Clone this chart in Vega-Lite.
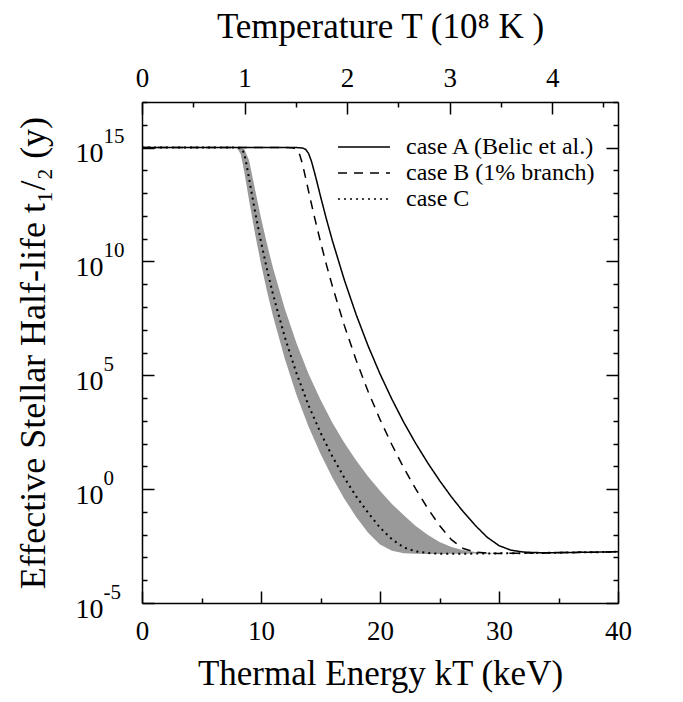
{
  "$schema": "https://vega.github.io/schema/vega-lite/v6.json",
  "autosize": {"type": "none"},
  "padding": {"left": 142, "top": 102, "right": 65, "bottom": 99},
  "width": 476,
  "height": 501,
  "config": {
    "view": {"stroke": null},
    "axis": {"labelFont": "Liberation Serif", "titleFont": "Liberation Serif", "labelColor": "black", "titleColor": "black", "titleFontWeight": "normal", "tickColor": "black", "domainColor": "black", "grid": false, "labelFlush": false, "labelOverlap": false, "tickWidth": 1.5, "domainWidth": 1.5},
    "legend": {"labelFont": "Liberation Serif", "labelColor": "black"}
  },
  "datasets": {
    "lines": [
      {"kT": 0, "t": 1e15, "case": "case A (Belic et al.)"},
      {"kT": 12, "t": 1e15, "case": "case A (Belic et al.)"},
      {"kT": 13, "t": 9.98e14, "case": "case A (Belic et al.)"},
      {"kT": 13.5, "t": 9.55e14, "case": "case A (Belic et al.)"},
      {"kT": 13.75, "t": 8.3e14, "case": "case A (Belic et al.)"},
      {"kT": 14, "t": 5.5e14, "case": "case A (Belic et al.)"},
      {"kT": 14.25, "t": 2.4e14, "case": "case A (Belic et al.)"},
      {"kT": 14.5, "t": 7.94e13, "case": "case A (Belic et al.)"},
      {"kT": 14.75, "t": 2.45e13, "case": "case A (Belic et al.)"},
      {"kT": 15, "t": 7.24e12, "case": "case A (Belic et al.)"},
      {"kT": 15.5, "t": 7.08e11, "case": "case A (Belic et al.)"},
      {"kT": 16, "t": 8.13e10, "case": "case A (Belic et al.)"},
      {"kT": 17, "t": 1.55e9, "case": "case A (Belic et al.)"},
      {"kT": 18, "t": 4.57e7, "case": "case A (Belic et al.)"},
      {"kT": 19, "t": 1.95e6, "case": "case A (Belic et al.)"},
      {"kT": 20, "t": 1.15e5, "case": "case A (Belic et al.)"},
      {"kT": 21, "t": 8910, "case": "case A (Belic et al.)"},
      {"kT": 22, "t": 851, "case": "case A (Belic et al.)"},
      {"kT": 23, "t": 102, "case": "case A (Belic et al.)"},
      {"kT": 24, "t": 14.5, "case": "case A (Belic et al.)"},
      {"kT": 25, "t": 2.4, "case": "case A (Belic et al.)"},
      {"kT": 26, "t": 0.457, "case": "case A (Belic et al.)"},
      {"kT": 27, "t": 0.101, "case": "case A (Belic et al.)"},
      {"kT": 28, "t": 0.0257, "case": "case A (Belic et al.)"},
      {"kT": 29, "t": 0.00776, "case": "case A (Belic et al.)"},
      {"kT": 30, "t": 0.00331, "case": "case A (Belic et al.)"},
      {"kT": 31, "t": 0.00209, "case": "case A (Belic et al.)"},
      {"kT": 32, "t": 0.00174, "case": "case A (Belic et al.)"},
      {"kT": 33, "t": 0.00164, "case": "case A (Belic et al.)"},
      {"kT": 34, "t": 0.00161, "case": "case A (Belic et al.)"},
      {"kT": 36, "t": 0.00166, "case": "case A (Belic et al.)"},
      {"kT": 38, "t": 0.0017, "case": "case A (Belic et al.)"},
      {"kT": 40, "t": 0.00178, "case": "case A (Belic et al.)"},
      {"kT": 0, "t": 1e15, "case": "case B (1% branch)"},
      {"kT": 12, "t": 1e15, "case": "case B (1% branch)"},
      {"kT": 12.5, "t": 9.8e14, "case": "case B (1% branch)"},
      {"kT": 12.75, "t": 9.58e14, "case": "case B (1% branch)"},
      {"kT": 13, "t": 8.13e14, "case": "case B (1% branch)"},
      {"kT": 13.25, "t": 4.89e14, "case": "case B (1% branch)"},
      {"kT": 13.5, "t": 1.74e14, "case": "case B (1% branch)"},
      {"kT": 13.75, "t": 4.68e13, "case": "case B (1% branch)"},
      {"kT": 14, "t": 1.19e13, "case": "case B (1% branch)"},
      {"kT": 14.25, "t": 3.16e12, "case": "case B (1% branch)"},
      {"kT": 14.5, "t": 8.51e11, "case": "case B (1% branch)"},
      {"kT": 15, "t": 7.24e10, "case": "case B (1% branch)"},
      {"kT": 15.5, "t": 7.08e9, "case": "case B (1% branch)"},
      {"kT": 16, "t": 8.13e8, "case": "case B (1% branch)"},
      {"kT": 17, "t": 1.55e7, "case": "case B (1% branch)"},
      {"kT": 18, "t": 4.57e5, "case": "case B (1% branch)"},
      {"kT": 19, "t": 19500, "case": "case B (1% branch)"},
      {"kT": 20, "t": 1150, "case": "case B (1% branch)"},
      {"kT": 21, "t": 89.1, "case": "case B (1% branch)"},
      {"kT": 22, "t": 8.51, "case": "case B (1% branch)"},
      {"kT": 23, "t": 1.02, "case": "case B (1% branch)"},
      {"kT": 24, "t": 0.146, "case": "case B (1% branch)"},
      {"kT": 25, "t": 0.0254, "case": "case B (1% branch)"},
      {"kT": 26, "t": 0.00602, "case": "case B (1% branch)"},
      {"kT": 27, "t": 0.00245, "case": "case B (1% branch)"},
      {"kT": 28, "t": 0.00172, "case": "case B (1% branch)"},
      {"kT": 29, "t": 0.00156, "case": "case B (1% branch)"},
      {"kT": 30, "t": 0.00151, "case": "case B (1% branch)"},
      {"kT": 32, "t": 0.00155, "case": "case B (1% branch)"},
      {"kT": 34, "t": 0.001585, "case": "case B (1% branch)"},
      {"kT": 36, "t": 0.00166, "case": "case B (1% branch)"},
      {"kT": 38, "t": 0.0017, "case": "case B (1% branch)"},
      {"kT": 40, "t": 0.00178, "case": "case B (1% branch)"},
      {"kT": 0, "t": 1e15, "case": "case C"},
      {"kT": 7.5, "t": 1e15, "case": "case C"},
      {"kT": 8, "t": 9.93e14, "case": "case C"},
      {"kT": 8.15, "t": 9.74e14, "case": "case C"},
      {"kT": 8.3, "t": 9.12e14, "case": "case C"},
      {"kT": 8.45, "t": 7.47e14, "case": "case C"},
      {"kT": 8.6, "t": 5.25e14, "case": "case C"},
      {"kT": 8.8, "t": 1.63e14, "case": "case C"},
      {"kT": 9, "t": 4.27e13, "case": "case C"},
      {"kT": 9.5, "t": 1.51e12, "case": "case C"},
      {"kT": 10, "t": 7.24e10, "case": "case C"},
      {"kT": 10.5, "t": 4.57e9, "case": "case C"},
      {"kT": 11, "t": 3.72e8, "case": "case C"},
      {"kT": 12, "t": 4.68e6, "case": "case C"},
      {"kT": 13, "t": 1.15e5, "case": "case C"},
      {"kT": 14, "t": 4680, "case": "case C"},
      {"kT": 15, "t": 302, "case": "case C"},
      {"kT": 16, "t": 26.9, "case": "case C"},
      {"kT": 17, "t": 3.16, "case": "case C"},
      {"kT": 18, "t": 0.48, "case": "case C"},
      {"kT": 19, "t": 0.0912, "case": "case C"},
      {"kT": 20, "t": 0.0204, "case": "case C"},
      {"kT": 21, "t": 0.00631, "case": "case C"},
      {"kT": 22, "t": 0.00275, "case": "case C"},
      {"kT": 23, "t": 0.00184, "case": "case C"},
      {"kT": 24, "t": 0.00157, "case": "case C"},
      {"kT": 25, "t": 0.00145, "case": "case C"},
      {"kT": 26, "t": 0.001445, "case": "case C"},
      {"kT": 28, "t": 0.00148, "case": "case C"},
      {"kT": 30, "t": 0.00151, "case": "case C"},
      {"kT": 32, "t": 0.00155, "case": "case C"},
      {"kT": 34, "t": 0.001585, "case": "case C"},
      {"kT": 36, "t": 0.00166, "case": "case C"},
      {"kT": 38, "t": 0.0017, "case": "case C"},
      {"kT": 40, "t": 0.00178, "case": "case C"}
    ],
    "band": [
      {"kT": 7.8, "lo": 1e15, "hi": 1e15},
      {"kT": 8, "lo": 9.33e14, "hi": 1e15},
      {"kT": 8.3, "lo": 5.13e14, "hi": 9.85e14},
      {"kT": 8.6, "lo": 8.32e13, "hi": 8.66e14},
      {"kT": 9, "lo": 4.68e12, "hi": 2.69e14},
      {"kT": 9.5, "lo": 1.62e11, "hi": 1.45e13},
      {"kT": 10, "lo": 7.76e9, "hi": 8.13e11},
      {"kT": 10.5, "lo": 5.01e8, "hi": 5.89e10},
      {"kT": 11, "lo": 4.07e7, "hi": 5.37e9},
      {"kT": 12, "lo": 5.25e5, "hi": 8.32e7},
      {"kT": 13, "lo": 12900, "hi": 2.4e6},
      {"kT": 14, "lo": 550, "hi": 1.15e5},
      {"kT": 15, "lo": 35.5, "hi": 8320},
      {"kT": 16, "lo": 3.16, "hi": 832},
      {"kT": 17, "lo": 0.382, "hi": 110},
      {"kT": 18, "lo": 0.0603, "hi": 18.2},
      {"kT": 19, "lo": 0.0121, "hi": 3.63},
      {"kT": 20, "lo": 0.00375, "hi": 0.852},
      {"kT": 21, "lo": 0.00196, "hi": 0.225},
      {"kT": 22, "lo": 0.00153, "hi": 0.0706},
      {"kT": 23, "lo": 0.00145, "hi": 0.0243},
      {"kT": 24, "lo": 0.00141, "hi": 0.00991},
      {"kT": 25, "lo": 0.00141, "hi": 0.0048},
      {"kT": 26, "lo": 0.001445, "hi": 0.00287},
      {"kT": 27, "lo": 0.00146, "hi": 0.00209},
      {"kT": 28, "lo": 0.00148, "hi": 0.00175},
      {"kT": 29, "lo": 0.0015, "hi": 0.0016},
      {"kT": 30, "lo": 0.00151, "hi": 0.00151}
    ]
  },
  "resolve": {"axis": {"x": "independent", "y": "independent"}},
  "layer": [
    {
      "data": {"name": "band"},
      "mark": {"type": "area", "color": "#999999", "opacity": 1},
      "encoding": {
        "x": {"field": "kT", "type": "quantitative", "scale": {"domain": [0, 40], "nice": false},
          "axis": {"orient": "bottom", "values": [0, 10, 20, 30, 40], "tickSize": -12, "domain": true, "labelFontSize": 27, "labelPadding": 27, "format": "d", "title": "Thermal Energy kT (keV)", "titleFontSize": 35, "titlePadding": 12}},
        "y": {"field": "lo", "type": "quantitative", "scale": {"type": "log", "domain": [1e-5, 1e17], "nice": false},
          "axis": {"orient": "left", "values": [1e-5, 1, 1e5, 1e10, 1e15], "tickSize": -12, "domain": true, "labelExpr": "'10'", "labelFontSize": 28, "labelPadding": 51, "labelBaseline": "middle", "labelOffset": 6, "title": "Effective Stellar Half-life t₁/₂ (y)", "titleFontSize": 36, "titlePadding": 23}},
        "y2": {"field": "hi"}
      }
    },
    {
      "data": {"name": "lines"},
      "transform": [{"filter": {"field": "case", "equal": "case C"}}],
      "mark": {"type": "line", "color": "black", "strokeWidth": 2},
      "encoding": {
        "x": {"field": "kT", "type": "quantitative", "scale": {"domain": [0, 40], "nice": false},
          "axis": {"orient": "bottom", "values": [5, 15, 25, 35], "tickSize": -5, "domain": false, "labels": false, "title": null}},
        "y": {"field": "t", "type": "quantitative", "scale": {"type": "log", "domain": [1e-5, 1e17], "nice": false},
          "axis": {"orient": "left", "values": [1e-4, 1e-3, 1e-2, 0.1, 10, 100, 1000, 1e4, 1e6, 1e7, 1e8, 1e9, 1e11, 1e12, 1e13, 1e14, 1e16, 1e17], "tickSize": -5, "domain": false, "labels": false, "title": null}},
        "strokeDash": {"field": "case", "type": "nominal",
          "scale": {"domain": ["case A (Belic et al.)", "case B (1% branch)", "case C"], "range": [[1, 0], [9, 7], [2, 4]]},
          "legend": {"orient": "none", "legendX": 210, "legendY": 33, "title": null, "padding": 0, "symbolType": "M-2.6,0H2.6", "symbolSize": 400, "symbolStrokeWidth": 1.5, "symbolStrokeColor": "black", "symbolFillColor": "transparent", "labelFontSize": 24, "labelOffset": 30, "labelLimit": 0, "rowPadding": 2}}
      }
    },
    {
      "data": {"name": "lines"},
      "transform": [{"filter": {"field": "case", "equal": "case B (1% branch)"}}],
      "mark": {"type": "line", "color": "black", "strokeWidth": 1.5},
      "encoding": {
        "x": {"field": "kT", "type": "quantitative", "scale": {"domain": [0, 40], "nice": false},
          "axis": {"orient": "top", "values": [0, 8.617, 17.235, 25.852, 34.469], "tickSize": -12, "domain": true, "labelExpr": "format(datum.value / 8.617, '.0f')", "labelFontSize": 27, "labelPadding": 22, "title": "Temperature T (10⁸ K )", "titleFontSize": 35, "titlePadding": 20}},
        "y": {"field": "t", "type": "quantitative", "scale": {"type": "log", "domain": [1e-5, 1e17], "nice": false},
          "axis": {"orient": "right", "values": [1e-5, 1, 1e5, 1e10, 1e15], "tickSize": -12, "domain": true, "labels": false, "title": null}},
        "strokeDash": {"field": "case", "type": "nominal",
          "scale": {"domain": ["case A (Belic et al.)", "case B (1% branch)", "case C"], "range": [[1, 0], [9, 7], [2, 4]]},
          "legend": {"orient": "none", "legendX": 210, "legendY": 33, "title": null, "padding": 0, "symbolType": "M-2.6,0H2.6", "symbolSize": 400, "symbolStrokeWidth": 1.5, "symbolStrokeColor": "black", "symbolFillColor": "transparent", "labelFontSize": 24, "labelOffset": 30, "labelLimit": 0, "rowPadding": 2}}
      }
    },
    {
      "data": {"name": "lines"},
      "transform": [{"filter": {"field": "case", "equal": "case A (Belic et al.)"}}],
      "mark": {"type": "line", "color": "black", "strokeWidth": 1.5},
      "encoding": {
        "x": {"field": "kT", "type": "quantitative", "scale": {"domain": [0, 40], "nice": false},
          "axis": {"orient": "top", "values": [4.309, 12.926, 21.543, 30.161, 38.778], "tickSize": -5, "domain": false, "labels": false, "title": null}},
        "y": {"field": "t", "type": "quantitative", "scale": {"type": "log", "domain": [1e-5, 1e17], "nice": false},
          "axis": {"orient": "right", "values": [1e-4, 1e-3, 1e-2, 0.1, 10, 100, 1000, 1e4, 1e6, 1e7, 1e8, 1e9, 1e11, 1e12, 1e13, 1e14, 1e16, 1e17], "tickSize": -5, "domain": false, "labels": false, "title": null}},
        "strokeDash": {"field": "case", "type": "nominal",
          "scale": {"domain": ["case A (Belic et al.)", "case B (1% branch)", "case C"], "range": [[1, 0], [9, 7], [2, 4]]},
          "legend": {"orient": "none", "legendX": 210, "legendY": 33, "title": null, "padding": 0, "symbolType": "M-2.6,0H2.6", "symbolSize": 400, "symbolStrokeWidth": 1.5, "symbolStrokeColor": "black", "symbolFillColor": "transparent", "labelFontSize": 24, "labelOffset": 30, "labelLimit": 0, "rowPadding": 2}}
      }
    },
    {
      "data": {"name": "lines"},
      "mark": {"type": "point", "opacity": 0},
      "encoding": {
        "x": {"field": "kT", "type": "quantitative", "scale": {"domain": [0, 40], "nice": false}, "axis": null},
        "y": {"field": "t", "type": "quantitative", "scale": {"type": "log", "domain": [1e-5, 1e17], "nice": false},
          "axis": {"orient": "left", "values": [1e-5, 1, 1e5, 1e10, 1e15], "ticks": false, "tickSize": 0, "domain": false, "labelExpr": "datum.value < 1e-3 ? '-5' : datum.value < 10 ? '0' : datum.value < 1e7 ? '5' : datum.value < 1e12 ? '10' : '15'", "labelAlign": "left", "labelFontSize": 21, "labelPadding": 39, "labelBaseline": "middle", "labelOffset": -11, "title": null}}
      }
    }
  ]
}
